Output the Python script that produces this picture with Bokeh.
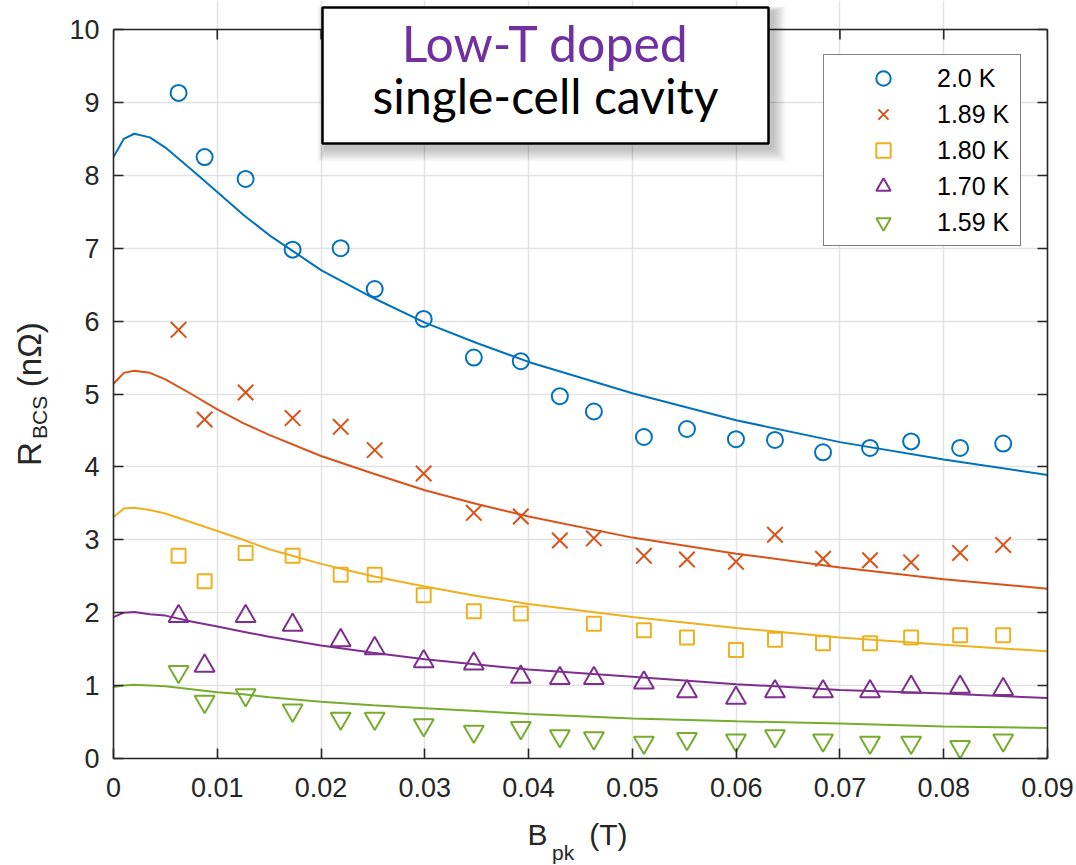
import math
from bokeh.plotting import figure
from bokeh.models import (Range1d, LinearAxis, FixedTicker, Legend, LegendItem,
                          Label, BoxAnnotation, Span, CustomJSTickFormatter)
from bokeh.embed import file_html
from bokeh.resources import INLINE

# Peak surface field (T) of each measurement
b_pk = [0.00627, 0.00878, 0.01273, 0.01726, 0.02189, 0.02517, 0.02989, 0.03472,
        0.03925, 0.04301, 0.04629, 0.05111, 0.05526, 0.05998, 0.06374, 0.06837,
        0.07290, 0.07686, 0.08158, 0.08573]

# Measured BCS resistance (nOhm) per bath temperature
r_200 = [9.13, 8.25, 7.95, 6.98, 7.00, 6.44, 6.03, 5.50, 5.45, 4.97, 4.76, 4.41,
         4.52, 4.38, 4.37, 4.20, 4.26, 4.35, 4.26, 4.32]
r_189 = [5.88, 4.65, 5.02, 4.67, 4.55, 4.23, 3.91, 3.37, 3.32, 2.99, 3.02, 2.78,
         2.73, 2.70, 3.07, 2.74, 2.72, 2.69, 2.82, 2.93]
r_180 = [2.78, 2.43, 2.82, 2.78, 2.52, 2.52, 2.24, 2.02, 1.99, None, 1.85, 1.76,
         1.66, 1.49, 1.63, 1.58, 1.58, 1.66, 1.69, 1.69]
r_170 = [1.95, 1.27, 1.95, 1.83, 1.62, 1.51, 1.33, 1.30, 1.12, 1.10, 1.10, 1.04,
         0.92, 0.83, 0.92, 0.92, 0.92, 0.98, 0.98, 0.95]
r_159 = [1.19, 0.78, 0.87, 0.66, 0.55, 0.55, 0.46, 0.37, 0.42, 0.31, 0.28, 0.22,
         0.27, 0.25, 0.31, 0.25, 0.22, 0.22, 0.16, 0.25]

# Model curves
b_fit = [0.0, 0.001, 0.002, 0.0035, 0.005, 0.0075, 0.01, 0.0125, 0.015, 0.02,
         0.025, 0.03, 0.035, 0.04, 0.05, 0.06, 0.07, 0.08, 0.09]
fit_200 = [8.25, 8.50, 8.57, 8.52, 8.38, 8.08, 7.77, 7.46, 7.18, 6.70, 6.32, 5.98,
           5.70, 5.44, 5.01, 4.64, 4.34, 4.10, 3.89]
fit_189 = [5.14, 5.29, 5.32, 5.29, 5.20, 5.00, 4.79, 4.60, 4.44, 4.15, 3.91, 3.68,
           3.49, 3.32, 3.03, 2.81, 2.62, 2.46, 2.33]
fit_180 = [3.31, 3.43, 3.44, 3.41, 3.36, 3.24, 3.12, 3.00, 2.87, 2.67, 2.50, 2.36,
           2.23, 2.12, 1.94, 1.79, 1.66, 1.56, 1.47]
fit_170 = [1.94, 2.00, 2.01, 1.98, 1.96, 1.88, 1.81, 1.74, 1.67, 1.55, 1.45, 1.36,
           1.29, 1.22, 1.12, 1.02, 0.94, 0.89, 0.83]
fit_159 = [0.98, 1.00, 1.01, 1.00, 0.99, 0.95, 0.91, 0.88, 0.84, 0.78, 0.73, 0.69,
           0.65, 0.61, 0.55, 0.51, 0.48, 0.44, 0.42]

labels = ["2.0 K", "1.89 K", "1.80 K", "1.70 K", "1.59 K"]
colors = ["#0072BD", "#D95319", "#EDB120", "#7E2F8E", "#77AC30"]
markers = ["circle", "x", "square", "triangle", "inverted_triangle"]
sizes = [16, 22, 14, 20, 20]

x_ticks = [0.0, 0.01, 0.02, 0.03, 0.04, 0.05, 0.06, 0.07, 0.08, 0.09]
y_ticks = list(range(0, 11))
X_MAX, Y_MAX = 0.09, 10

AX = "#262626"
FONT = "Liberation Sans"
NB = "\u00a0"

# pixel geometry of the axes box
FL, FR, FT, FB = 113, 1047, 29, 758
PX_X = (FR - FL) / X_MAX          # px per tesla
PX_Y = (FB - FT) / Y_MAX          # px per nOhm
Y_TOP = FB / PX_Y                 # data value at the top of the canvas

p = figure(frame_width=FR - FL, frame_height=FB,
           x_range=Range1d(0, X_MAX), y_range=Range1d(0, Y_TOP),
           min_border_left=FL, min_border_right=1076 - FR, min_border_top=0,
           min_border_bottom=865 - FB, output_backend="svg", toolbar_location=None)
p.outline_line_color = None
p.background_fill_color = "white"
p.border_fill_color = "white"


def dx(X):
    return (X - FL) / PX_X


def dy(Y):
    return (FB - Y) / PX_Y


# grid
p.xgrid.ticker = FixedTicker(ticks=x_ticks)
p.ygrid.ticker = FixedTicker(ticks=y_ticks)
p.xgrid.bounds = (0, Y_MAX)
for g in (p.xgrid, p.ygrid):
    g.grid_line_color = "#e2e2e2"
    g.grid_line_width = 1.5


def style_axis(ax, show_labels):
    ax.axis_line_color = AX
    ax.axis_line_width = 1.6
    ax.major_tick_line_color = AX
    ax.major_tick_line_width = 1.6
    ax.major_tick_in = 10
    ax.major_tick_out = 0
    ax.minor_tick_line_color = None
    if show_labels:
        ax.major_label_text_font = FONT
        ax.major_label_text_font_size = "27px"
        ax.major_label_text_color = AX
    else:
        ax.formatter = CustomJSTickFormatter(code="return '';")
        ax.major_label_text_font_size = "0px"
        ax.major_label_standoff = 0


xa = p.xaxis[0]
xa.ticker = FixedTicker(ticks=x_ticks)
xa.formatter = CustomJSTickFormatter(code="return tick == 0 ? '0' : tick.toFixed(2);")
style_axis(xa, True)
xa.major_label_standoff = 19

ya = p.yaxis[0]
ya.ticker = FixedTicker(ticks=y_ticks)
ya.bounds = (0, Y_MAX)
ya.formatter = CustomJSTickFormatter(code="return tick.toFixed(0);")
style_axis(ya, True)
ya.major_label_standoff = 14

right_ax = LinearAxis(ticker=FixedTicker(ticks=y_ticks), bounds=(0, Y_MAX))
style_axis(right_ax, False)
p.add_layout(right_ax, "right")

# top edge of the axes box with inward ticks
p.add_layout(Span(location=Y_MAX, dimension="width", line_color=AX, line_width=1.6))
tick_len = 10 / PX_Y
p.segment(x0=x_ticks, y0=[Y_MAX] * len(x_ticks), x1=x_ticks,
          y1=[Y_MAX - tick_len] * len(x_ticks), line_color=AX, line_width=1.6)

# fit curves
for ys, c in zip([fit_200, fit_189, fit_180, fit_170, fit_159], colors):
    p.line(b_fit, ys, line_color=c, line_width=2)

# measured points
items = []
for ys, c, m, s, lab in zip([r_200, r_189, r_180, r_170, r_159], colors, markers, sizes, labels):
    xs = [x for x, y in zip(b_pk, ys) if y is not None]
    yv = [y for y in ys if y is not None]
    r = p.scatter(xs, yv, marker=m, size=s, line_color=c, fill_color=None, line_width=2)
    items.append(LegendItem(label=lab, renderers=[r]))

legend = Legend(items=items, location=(823 - FL, FB - 246),
                border_line_color="black", border_line_width=1.6,
                background_fill_color="white", background_fill_alpha=1.0,
                label_text_font=FONT, label_text_font_size="25px",
                label_text_color="black", label_height=36, glyph_height=36,
                glyph_width=108, label_standoff=0, label_width=78,
                spacing=0, padding=5, margin=0)
p.add_layout(legend, "center")

# axis titles (with subscripts) placed in the side panels
EM = 0.36
p.add_layout(Label(x=dx(527), y=dy(845 - EM * 30), text="B" + NB * 5 + "(T)",
                   text_font=FONT, text_font_size="30px", text_color=AX,
                   text_align="left", text_baseline="alphabetic"), "below")
p.add_layout(Label(x=dx(551.5), y=dy(860 - EM * 21), text="pk",
                   text_font=FONT, text_font_size="21px", text_color=AX,
                   text_align="left", text_baseline="alphabetic"), "right")
p.add_layout(Label(x=dx(41 - EM * 33), y=dy(465.5), text="R" + NB * 6 + "(n\u03a9)",
                   angle=math.pi / 2, text_font=FONT, text_font_size="33px",
                   text_color=AX, text_align="left", text_baseline="alphabetic"), "left")
p.add_layout(Label(x=dx(47 - EM * 21), y=dy(438.5), text="BCS",
                   angle=math.pi / 2, text_font=FONT, text_font_size="21px",
                   text_color=AX, text_align="left", text_baseline="alphabetic"), "left")

# caption box with soft drop shadow
BL, BR, BT, BBm = 322, 768, 7, 143
for i in range(8, 0, -1):
    e = i * 1.6
    p.add_layout(BoxAnnotation(left=dx(BL + 3 - e * 0.6), right=dx(BR + 4 + e),
                               top=dy(BT + 4 - e * 0.4), bottom=dy(BBm + 5 + e),
                               fill_color="black", fill_alpha=0.03, line_color=None))
p.add_layout(BoxAnnotation(left=dx(BL), right=dx(BR), top=dy(BT), bottom=dy(BBm),
                           fill_color="white", fill_alpha=1.0,
                           line_color="black", line_width=2.5, line_alpha=1.0))
p.add_layout(Label(x=dx(545), y=dy(60 - EM * 50), text="Low-T doped",
                   text_font="Lato", text_font_size="50px",
                   text_color="#7030A0", text_align="center", text_baseline="alphabetic"))
p.add_layout(Label(x=dx(545), y=dy(112 - EM * 48), text="single-cell cavity",
                   text_font="Lato", text_font_size="48px",
                   text_color="black", text_align="center", text_baseline="alphabetic"))

open("out.html", "w").write(file_html(p, INLINE))
